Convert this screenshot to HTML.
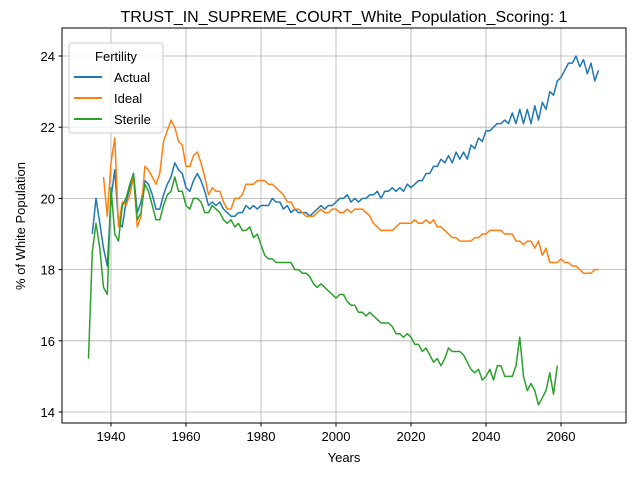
<!DOCTYPE html>
<html><head><meta charset="utf-8"><style>body{margin:0;background:#fff}svg{font-family:"Liberation Sans","DejaVu Sans",sans-serif}</style></head>
<body>
<svg id="chart" width="640" height="480" xmlns="http://www.w3.org/2000/svg">
<rect width="640" height="480" fill="#fff"/>
<g id="grid"></g>
<g id="series"></g>
<rect x="62" y="28" width="564" height="395" fill="none" stroke="#000" stroke-width="1"/>
<g id="ticks"></g>
<text x="344" y="22" text-anchor="middle" font-size="16">TRUST_IN_SUPREME_COURT_White_Population_Scoring: 1</text>
<text x="344" y="462" text-anchor="middle" font-size="13">Years</text>
<text x="25" y="226" text-anchor="middle" font-size="13" transform="rotate(-90 25 226)">% of White Population</text>
<g>
<rect x="69" y="43" width="94" height="90" rx="3" fill="#fff" fill-opacity="0.8" stroke="#ccc"/>
<text x="116" y="61" text-anchor="middle" font-size="13">Fertility</text>
<g><line x1="74" y1="77" x2="102" y2="77" stroke="#1f77b4" stroke-width="2"/><text x="114" y="82" font-size="13">Actual</text></g>
<g><line x1="74" y1="98" x2="102" y2="98" stroke="#ff7f0e" stroke-width="2"/><text x="114" y="103" font-size="13">Ideal</text></g>
<g><line x1="74" y1="119" x2="102" y2="119" stroke="#2ca02c" stroke-width="2"/><text x="114" y="124" font-size="13">Sterile</text></g>
</g>
</svg>
<script>
const xTicks=[1940,1960,1980,2000,2020,2040,2060];
const yTicks=[14,16,18,20,22,24];
const actualStart=1935;
const actual=[19.0,20.0,19.3,18.6,18.1,20.0,20.8,19.3,19.2,19.9,20.3,20.7,19.6,19.9,20.5,20.4,20.1,19.7,19.7,20.1,20.4,20.6,21.0,20.8,20.7,20.3,20.2,20.5,20.7,20.5,20.2,19.8,19.9,19.8,19.9,19.7,19.6,19.5,19.5,19.6,19.6,19.8,19.7,19.8,19.7,19.8,19.8,19.8,20.0,19.9,19.9,19.7,19.8,19.6,19.7,19.6,19.6,19.6,19.5,19.6,19.7,19.8,19.7,19.8,19.8,19.9,20.0,20.0,20.1,19.9,20.0,19.9,20.0,20.0,20.1,20.1,20.2,20.0,20.2,20.2,20.3,20.2,20.3,20.2,20.4,20.3,20.4,20.5,20.5,20.7,20.7,20.9,20.9,21.1,21.0,21.2,21.0,21.3,21.1,21.3,21.1,21.5,21.4,21.7,21.6,21.9,21.9,22.0,22.1,22.1,22.2,22.1,22.4,22.1,22.5,22.1,22.5,22.1,22.6,22.2,22.7,22.5,23.0,22.9,23.3,23.4,23.6,23.8,23.8,24.0,23.7,23.9,23.5,23.8,23.3,23.6];
const idealStart=1938;
const ideal=[20.6,19.5,21.0,21.7,19.2,19.9,19.8,20.1,20.6,19.2,19.5,20.9,20.8,20.6,20.4,20.7,21.6,21.9,22.2,22.0,21.6,21.5,20.9,20.9,21.2,21.3,21.0,20.6,20.1,20.3,20.2,20.2,19.9,19.7,19.7,20.0,20.0,20.1,20.4,20.4,20.4,20.5,20.5,20.5,20.4,20.4,20.3,20.2,20.1,19.9,19.9,19.7,19.7,19.6,19.5,19.5,19.5,19.6,19.7,19.6,19.6,19.7,19.7,19.6,19.6,19.7,19.6,19.7,19.7,19.7,19.6,19.5,19.3,19.2,19.1,19.1,19.1,19.1,19.2,19.3,19.3,19.3,19.3,19.4,19.3,19.3,19.4,19.3,19.4,19.2,19.2,19.1,19.0,18.9,18.9,18.8,18.8,18.8,18.8,18.9,18.9,19.0,19.0,19.1,19.1,19.1,19.1,19.0,19.0,19.0,18.8,18.8,18.7,18.8,18.8,18.6,18.8,18.4,18.6,18.2,18.2,18.2,18.3,18.2,18.2,18.1,18.1,18.0,17.9,17.9,17.9,18.0,18.0];
const sterileStart=1934;
const sterile=[15.5,18.5,19.3,18.6,17.5,17.3,20.3,19.0,18.8,19.8,20.0,20.4,20.7,19.4,19.6,20.4,20.2,19.8,19.4,19.4,19.8,20.1,20.2,20.6,20.2,20.2,19.8,19.7,20.0,20.0,19.9,19.6,19.6,19.8,19.7,19.6,19.4,19.3,19.4,19.2,19.3,19.1,19.1,19.2,18.9,19.0,18.7,18.4,18.3,18.3,18.2,18.2,18.2,18.2,18.2,18.0,18.0,17.9,17.9,17.8,17.6,17.5,17.6,17.5,17.4,17.3,17.2,17.3,17.3,17.1,17.0,17.0,16.8,16.8,16.7,16.8,16.7,16.6,16.5,16.5,16.5,16.4,16.2,16.2,16.1,16.2,16.1,15.9,15.9,15.7,15.8,15.6,15.4,15.5,15.3,15.5,15.8,15.7,15.7,15.7,15.6,15.4,15.2,15.1,15.2,14.9,15.0,15.2,14.9,15.3,15.3,15.0,15.0,15.0,15.3,16.1,15.0,14.6,14.8,14.6,14.2,14.4,14.6,15.1,14.5,15.3];
const NS="http://www.w3.org/2000/svg";
function X(yr){return 111+(yr-1940)*3.75;}
function Y(v){return 412-(v-14)*35.6;}
const grid=document.getElementById('grid'),ticks=document.getElementById('ticks'),ser=document.getElementById('series');
function mk(tag,attrs,parent){const e=document.createElementNS(NS,tag);for(const k in attrs)e.setAttribute(k,attrs[k]);parent.appendChild(e);return e;}
xTicks.forEach(t=>{const x=X(t);
const g=mk('line',{x1:x,x2:x,y1:28,y2:423,stroke:'#b0b0b0','stroke-width':0.8},grid);


mk('line',{x1:x,x2:x,y1:423,y2:426.5,stroke:'#000'},ticks);
const tx=mk('text',{x:x,y:441,'text-anchor':'middle','font-size':13},ticks);tx.textContent=t;

});
yTicks.forEach(t=>{const y=Y(t);
const g=mk('line',{x1:62,x2:626,y1:y,y2:y,stroke:'#b0b0b0','stroke-width':0.8},grid);


mk('line',{x1:58.5,x2:62,y1:y,y2:y,stroke:'#000'},ticks);
const tx=mk('text',{x:55,y:y+5,'text-anchor':'end','font-size':13},ticks);tx.textContent=t;

});
function line(data,start,color,name){const pts=data.map((v,i)=>X(start+i).toFixed(1)+','+Y(v).toFixed(1)).join(' ');
const p=mk('polyline',{points:pts,fill:'none',stroke:color,'stroke-width':1.5,'stroke-linejoin':'round'},ser);

}
line(actual,actualStart,'#1f77b4','actual-line');
line(ideal,idealStart,'#ff7f0e','ideal-line');
line(sterile,sterileStart,'#2ca02c','sterile-line');
</script>
</body></html>
